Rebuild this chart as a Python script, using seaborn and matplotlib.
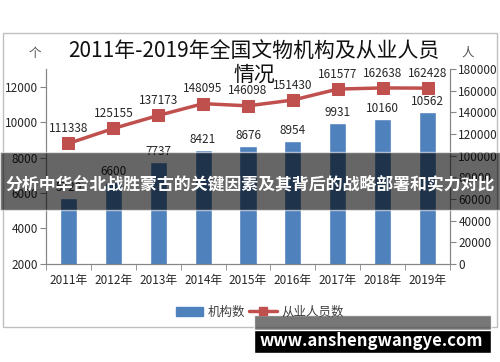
import numpy as np
import pandas as pd
import seaborn as sns
import matplotlib.pyplot as plt
from matplotlib.patches import Rectangle, Patch
from matplotlib.lines import Line2D

# 数据
anos = ["2011年", "2012年", "2013年", "2014年", "2015年", "2016年", "2017年", "2018年", "2019年"]
jigou = [5720, 6600, 7737, 8421, 8676, 8954, 9931, 10160, 10562]
renyuan = [111338, 125155, 137173, 148095, 146098, 151430, 161577, 162638, 162428]
titulo_1 = "2011年-2019年全国文物机构及从业人员"
titulo_2 = "情况"
faixa = "分析中华台北战胜蒙古的关键因素及其背后的战略部署和实力对比"
site = "www.anshengwangye.com"

sns.set_style("white")
plt.rcParams["font.family"] = ["Noto Sans CJK SC", "DejaVu Sans"]

azul = "#4F81BD"
vermelho = "#C0504D"
cinza = "#868686"

df = pd.DataFrame({"ano": anos, "jigou": jigou, "renyuan": renyuan, "pos": np.arange(len(anos))})

fig = plt.figure(figsize=(5, 3.62), dpi=100)
ax = fig.add_axes([0.092, 0.271, 0.808, 0.538])
ax2 = ax.twinx()

sns.barplot(data=df, x="ano", y="jigou", color=azul, width=0.38, saturation=1, ax=ax, zorder=2)
sns.lineplot(data=df, x="pos", y="renyuan", color=vermelho, marker="s", markersize=8,
             markeredgecolor=vermelho, linewidth=2.5, ax=ax2)

ax.set_ylim(2000, 13000)
ax2.set_ylim(0, 180000)
ax.set_xlim(-0.5, len(anos) - 0.5)
ax.set_yticks(range(2000, 13000, 2000))
ax2.set_yticks(range(0, 180001, 20000))
ax.set_xlabel("")
ax.set_ylabel("")
ax2.set_xlabel("")
ax2.set_ylabel("")

# rótulos
for i, v in enumerate(jigou):
    ax.annotate(str(v), (i, v), xytext=(0, 3), textcoords="offset points",
                ha="center", va="bottom", fontsize=8.5, color="#262626")
for i, v in enumerate(renyuan):
    ax2.annotate(str(v), (i, v), xytext=(0, 6), textcoords="offset points",
                 ha="center", va="bottom", fontsize=8.5, color="#262626")

# eixos estilo excel
for a in (ax, ax2):
    for s in a.spines.values():
        s.set_color(cinza)
        s.set_linewidth(0.8)
    a.spines["top"].set_visible(False)
ax.tick_params(axis="y", length=4, color=cinza, labelsize=8.5, labelcolor="#262626", pad=2, left=True)
ax2.tick_params(axis="y", length=4, color=cinza, labelsize=8.5, labelcolor="#262626", pad=2, right=True)
ax.tick_params(axis="x", length=0, labelsize=8.5, labelcolor="#262626", pad=7)
ax.set_xticks(np.arange(-0.5, len(anos), 1), minor=True)
ax.tick_params(axis="x", which="minor", length=4, color=cinza, bottom=True)

# títulos
fig.text(0.508, 0.858, titulo_1, ha="center", va="center", fontsize=15, fontweight="medium",
         color="#111111")
fig.text(0.508, 0.793, titulo_2, ha="center", va="center", fontsize=15, fontweight="medium",
         color="#111111")
fig.text(0.07, 0.853, "个", ha="center", va="center", fontsize=9, color="#555555")
fig.text(0.936, 0.853, "人", ha="center", va="center", fontsize=9, color="#555555")

# legenda
handles = [Patch(color=azul, label="机构数"),
           Line2D([0], [0], color=vermelho, marker="s", linewidth=2.5, markersize=6, label="从业人员数")]
fig.legend(handles=handles, loc="center", bbox_to_anchor=(0.52, 0.138), ncol=2, frameon=False,
           fontsize=9, handlelength=2.2, columnspacing=0.3, handletextpad=0.4, labelcolor="#404040")

# moldura
fig.patches.append(Rectangle((0.006, 0.097), 0.988, 0.812, transform=fig.transFigure,
                             fill=False, edgecolor="#bfbfbf", linewidth=1.0))

# faixa escura por cima
fig.patches.append(Rectangle((0, 0.42), 1, 0.16, transform=fig.transFigure,
                             facecolor="black", alpha=0.6, zorder=5))
fig.text(0.5, 0.49, faixa, ha="center", va="center", fontsize=12.2, fontweight="bold",
         color="white", zorder=6)

# caixa do site
fig.patches.append(Rectangle((0.508, 0.088), 0.474, 0.042, transform=fig.transFigure,
                             facecolor="#555555", alpha=0.8, zorder=5))
fig.patches.append(Rectangle((0.508, 0.025), 0.474, 0.064, transform=fig.transFigure,
                             facecolor="black", zorder=5))
fig.text(0.742, 0.058, site, ha="center", va="center", fontsize=12, fontweight="bold",
         color="white", zorder=6)

plt.savefig("out.png", dpi=100)
plt.close()
